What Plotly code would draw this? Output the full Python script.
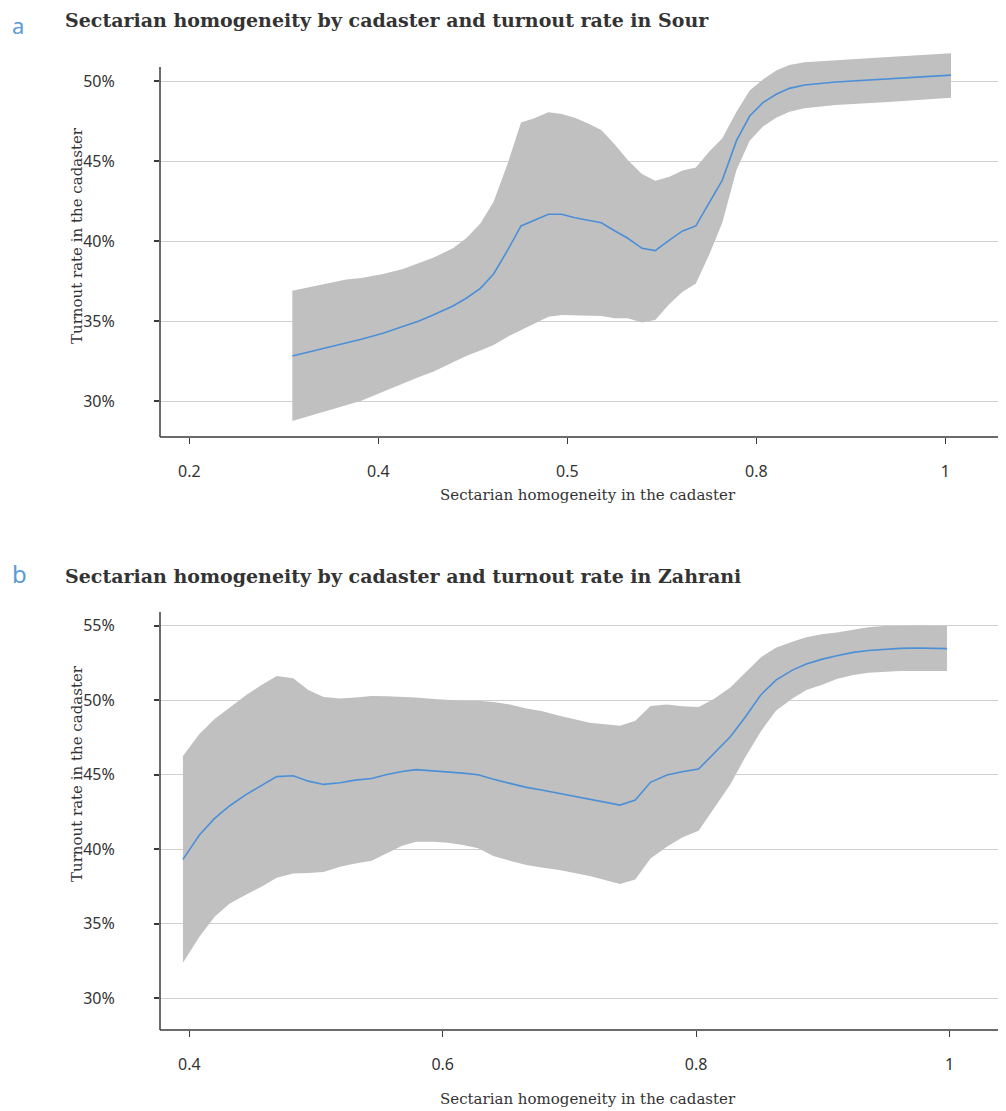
import plotly.graph_objects as go

# ---------- Panel a: Sour ----------
sour_x = [0.309, 0.366, 0.382, 0.405, 0.426, 0.443, 0.458, 0.479, 0.493, 0.508, 0.522, 0.537,
          0.551, 0.565, 0.580, 0.594, 0.608, 0.622, 0.636, 0.650, 0.664, 0.679, 0.693, 0.708,
          0.722, 0.736, 0.750, 0.764, 0.779, 0.793, 0.807, 0.821, 0.835, 0.851, 0.884, 0.944, 1.006]
sour_mean = [32.81, 33.6, 33.86, 34.23, 34.64, 35.0, 35.37, 35.94, 36.42, 37.04, 37.94, 39.44,
             40.94, 41.27, 41.67, 41.67, 41.45, 41.3, 41.14, 40.64, 40.17, 39.54, 39.40, 40.06,
             40.63, 40.94, 42.36, 43.81, 46.27, 47.81, 48.65, 49.17, 49.54, 49.75, 49.94, 50.17, 50.37]
sour_upper = [36.89, 37.6, 37.69, 37.94, 38.25, 38.6, 38.95, 39.54, 40.17, 41.1, 42.46, 44.86,
              47.4, 47.67, 48.04, 47.94, 47.7, 47.35, 46.94, 46.04, 45.06, 44.19, 43.77, 44.02,
              44.4, 44.6, 45.58, 46.42, 48.08, 49.4, 50.1, 50.65, 51.0, 51.17, 51.31, 51.52, 51.73]
sour_lower = [28.75, 29.75, 30.02, 30.58, 31.1, 31.5, 31.83, 32.4, 32.81, 33.15, 33.5, 34.02,
              34.44, 34.85, 35.27, 35.37, 35.35, 35.33, 35.31, 35.17, 35.17, 34.9, 35.06, 36.06,
              36.83, 37.35, 39.13, 41.14, 44.44, 46.27, 47.15, 47.71, 48.08, 48.29, 48.5, 48.71, 48.96]
sour_xticks = [0.2, 0.4, 0.6, 0.8, 1.0]
sour_xticktext = ["0.2", "0.4", "0.5", "0.8", "1"]
sour_yticks = [30, 35, 40, 45, 50]

# ---------- Panel b: Zahrani ----------
zah_x = [0.395, 0.408, 0.420, 0.432, 0.445, 0.457, 0.469, 0.482, 0.494, 0.506, 0.519, 0.531,
         0.544, 0.556, 0.568, 0.579, 0.593, 0.604, 0.616, 0.628, 0.640, 0.653, 0.666, 0.678,
         0.692, 0.716, 0.740, 0.752, 0.764, 0.777, 0.789, 0.802, 0.814, 0.827, 0.839, 0.851,
         0.863, 0.876, 0.887, 0.899, 0.911, 0.924, 0.936, 0.948, 0.961, 0.974, 0.998]
zah_mean = [39.32, 40.95, 42.07, 42.92, 43.68, 44.26, 44.87, 44.93, 44.57, 44.35, 44.46, 44.64,
            44.75, 45.02, 45.22, 45.34, 45.27, 45.2, 45.11, 45.0, 44.69, 44.42, 44.15, 43.97,
            43.75, 43.34, 42.96, 43.3, 44.49, 44.98, 45.2, 45.38, 46.39, 47.55, 48.89, 50.35,
            51.35, 52.02, 52.43, 52.74, 52.99, 53.21, 53.34, 53.43, 53.48, 53.5, 53.46]
zah_upper = [46.25, 47.73, 48.74, 49.5, 50.35, 51.02, 51.62, 51.47, 50.68, 50.21, 50.12, 50.19,
             50.28, 50.26, 50.23, 50.19, 50.08, 50.01, 49.97, 49.97, 49.88, 49.72, 49.45, 49.27,
             48.95, 48.49, 48.29, 48.62, 49.61, 49.72, 49.59, 49.54, 50.08, 50.86, 51.87, 52.87,
             53.52, 53.93, 54.22, 54.42, 54.55, 54.75, 54.89, 54.98, 55.02, 55.02, 55.0]
zah_lower = [32.38, 34.13, 35.47, 36.36, 36.97, 37.48, 38.09, 38.38, 38.4, 38.47, 38.83, 39.05,
             39.23, 39.72, 40.24, 40.5, 40.5, 40.44, 40.28, 40.06, 39.54, 39.23, 38.94, 38.78,
             38.6, 38.2, 37.66, 37.97, 39.38, 40.17, 40.79, 41.24, 42.74, 44.35, 46.21, 47.89,
             49.3, 50.12, 50.68, 51.02, 51.42, 51.69, 51.85, 51.91, 51.96, 51.96, 51.96]
zah_xticks = [0.4, 0.6, 0.8, 1.0]
zah_xticktext = ["0.4", "0.6", "0.8", "1"]
zah_yticks = [30, 35, 40, 45, 50, 55]

title_a = "Sectarian homogeneity by cadaster and turnout rate in Sour"
title_b = "Sectarian homogeneity by cadaster and turnout rate in Zahrani"
xlabel = "Sectarian homogeneity in the cadaster"
ylabel = "Turnout rate in the cadaster"

OFF = 8  # page body margin
W, H = 1006 - OFF, 1111 - OFF
BAND = "#c0c0c0"
LINE = "#4a8fd8"
AX = "#3a3a3a"
GRID = "#cfcfcf"
TXT = "#333333"
SERIF = "DejaVu Serif"
SANS = "Noto Sans"

fig = go.Figure()

def add_panel(x, lo, up, mean, xa, ya):
    fig.add_trace(go.Scatter(x=x, y=lo, mode="lines", line=dict(width=0, color=BAND),
                             showlegend=False, hoverinfo="skip", xaxis=xa, yaxis=ya))
    fig.add_trace(go.Scatter(x=x, y=up, mode="lines", line=dict(width=0, color=BAND),
                             fill="tonexty", fillcolor=BAND, showlegend=False,
                             hoverinfo="skip", xaxis=xa, yaxis=ya))
    fig.add_trace(go.Scatter(x=x, y=mean, mode="lines", line=dict(width=1.6, color=LINE),
                             showlegend=False, xaxis=xa, yaxis=ya))

add_panel(sour_x, sour_lower, sour_upper, sour_mean, "x", "y")
add_panel(zah_x, zah_lower, zah_upper, zah_mean, "x2", "y2")

def py(p):  # reference pixel y -> paper
    return 1 - (p - OFF) / H

def px(p):
    return (p - OFF) / W

x0 = px(160)
common_x = dict(showgrid=False, zeroline=False, showline=False, ticks="outside", ticklen=6,
                tickcolor=AX, tickwidth=1, tickfont=dict(family=SANS, size=16, color=TXT),
                ticklabelstandoff=14)
common_y = dict(showgrid=True, gridcolor=GRID, gridwidth=1, zeroline=False, showline=False,
                ticks="outside", ticklen=5, tickcolor=AX, tickwidth=1.5,
                tickfont=dict(family=SANS, size=16, color=TXT), ticklabelstandoff=36)

fig.update_layout(
    width=W, height=H, margin=dict(l=0, r=0, t=0, b=0),
    paper_bgcolor="white", plot_bgcolor="white",
    xaxis=dict(domain=[x0, 1], range=[0.169, 1.0642], tickvals=sour_xticks,
               ticktext=sour_xticktext, anchor="y", **common_x),
    yaxis=dict(domain=[py(437), py(49)], range=[27.75, 52.0], tickvals=sour_yticks,
               ticktext=[f"{v}%" for v in sour_yticks], anchor="x", **common_y),
    xaxis2=dict(domain=[x0, 1], range=[0.3769, 1.0446], tickvals=zah_xticks,
                ticktext=zah_xticktext, anchor="y2", **common_x),
    yaxis2=dict(domain=[py(1030), py(610.8)], range=[27.87, 56.0], tickvals=zah_yticks,
                ticktext=[f"{v}%" for v in zah_yticks], anchor="x2", **common_y),
)

shapes = [
    dict(type="line", xref="paper", yref="paper", x0=x0, x1=1, y0=py(437), y1=py(437),
         line=dict(color=AX, width=1.5)),
    dict(type="line", xref="paper", yref="paper", x0=x0, x1=x0, y0=py(437), y1=py(67),
         line=dict(color=AX, width=1.5)),
    dict(type="line", xref="paper", yref="paper", x0=x0, x1=1, y0=py(1030), y1=py(1030),
         line=dict(color=AX, width=1.5)),
    dict(type="line", xref="paper", yref="paper", x0=x0, x1=x0, y0=py(1030), y1=py(612),
         line=dict(color=AX, width=1.5)),
]
fig.update_layout(shapes=shapes)

ann = []
def text(x, y, s, size, family, color, bold=False, xanchor="left", angle=0, yanchor="middle"):
    ann.append(dict(x=px(x), y=py(y), xref="paper", yref="paper", text=f"<b>{s}</b>" if bold else s,
                    showarrow=False, xanchor=xanchor, yanchor=yanchor, textangle=angle,
                    font=dict(size=size, family=family, color=color)))

text(10, 8, "a", 22, SANS, "#5b9bd5", yanchor="top")
text(63, 20, title_a, 19, SERIF, TXT, bold=True)
text(10, 573, "b", 24, SANS, "#5b9bd5")
text(63, 576, title_b, 19, SERIF, TXT, bold=True)
text(588, 495, xlabel, 15, SERIF, TXT, xanchor="center")
text(588, 1099, xlabel, 15, SERIF, TXT, xanchor="center")
text(77, 236, ylabel, 15, SERIF, TXT, xanchor="center", angle=-90)
text(77, 774, ylabel, 15, SERIF, TXT, xanchor="center", angle=-90)
fig.update_layout(annotations=ann)

fig.write_html("out.html")
